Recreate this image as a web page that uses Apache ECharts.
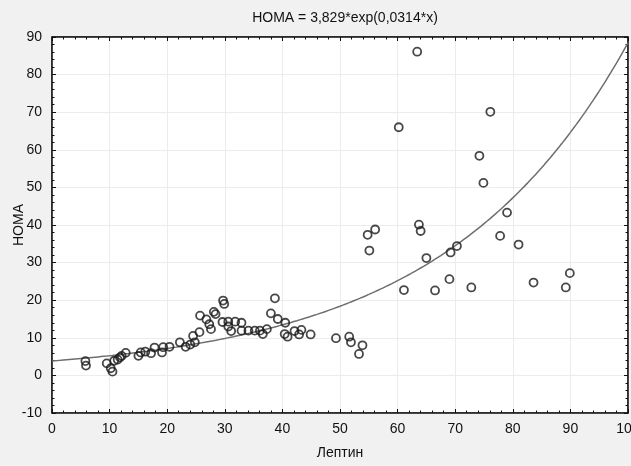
<!DOCTYPE html>
<html>
<head>
<meta charset="utf-8">
<script src="https://cdn.jsdelivr.net/npm/echarts@6/dist/echarts.min.js"></script>
<style>
html,body{margin:0;padding:0;background:#f1f1f1;}
#c{width:631px;height:466px;}
</style>
</head>
<body>
<div id="c"></div>
<script>
// Data
var leptin = [5.8,5.9,9.5,10.2,10.5,10.8,11.4,11.8,12.1,12.8,15.0,15.4,16.2,17.2,17.8,19.1,19.3,20.4,22.2,23.2,24.0,24.5,24.8,25.6,25.7,26.8,27.3,27.6,28.1,28.4,29.6,29.7,29.9,30.6,30.6,31.1,31.8,32.9,32.9,34.1,35.2,36.1,36.6,37.3,38.0,38.7,39.2,40.5,40.4,40.9,42.1,42.9,43.3,44.9,49.3,51.6,51.9,53.9,53.3,54.8,56.1,55.1,60.2,61.1,63.4,63.7,64.0,65.0,66.5,69.0,69.2,70.3,72.8,74.2,74.9,76.1,77.8,79.0,81.0,83.6,89.2,89.9];
var homa = [3.8,2.6,3.2,1.9,1.0,3.9,4.2,4.8,5.2,6.0,5.2,6.1,6.3,5.9,7.4,6.1,7.5,7.6,8.8,7.6,8.2,10.5,8.8,11.5,15.9,14.9,13.6,12.3,16.9,16.3,14.2,19.9,19.0,14.3,13.0,11.8,14.3,14.0,11.9,11.9,11.9,11.9,11.0,12.3,16.5,20.5,15.0,14.0,11.0,10.3,11.8,10.9,12.1,10.9,9.9,10.3,8.8,8.0,5.7,37.4,38.8,33.2,66.0,22.7,86.1,40.1,38.4,31.2,22.6,25.6,32.7,34.4,23.4,58.4,51.2,70.1,37.1,43.3,34.8,24.7,23.4,27.2];
// Fit stated in the title: HOMA = 3,829*exp(0,0314*x)
var fitA = 3.829, fitB = 0.0314;
var xTicks = [0,10,20,30,40,50,60,70,80,90,100];
var yTicks = [-10,0,10,20,30,40,50,60,70,80,90];

var points = leptin.map(function(x,i){return [x, homa[i]];});
var fit = [];
for (var x = 0; x <= 100; x += 0.5) fit.push([x, fitA*Math.exp(fitB*x)]);

var font = 'Liberation Sans, Arial, sans-serif';
var chart = echarts.init(document.getElementById('c'), null, {renderer:'canvas'});
var tickStyle = {show:true, inside:true, length:4, lineStyle:{color:'#111', width:1}};
var minorStyle = {show:true, splitNumber:5, length:2.5, lineStyle:{color:'#111', width:1}};
chart.setOption({
  backgroundColor:'#f1f1f1',
  animation:false,
  title:{text:'HOMA = 3,829*exp(0,0314*x)', left:340, top:6, textAlign:'center',
    textStyle:{fontFamily:font, fontSize:14, fontWeight:'normal', color:'#111'}},
  graphic:[{
    type:'text', x:19, y:225, rotation:Math.PI/2,
    style:{text:'HOMA', fontFamily:font, fontSize:14, fill:'#111', align:'center', verticalAlign:'middle'}
  }],
  grid:{left:52, right:3, top:37, bottom:53, show:true, backgroundColor:'#ffffff', borderColor:'#111', borderWidth:1,
    containLabel:false, outerBoundsMode:'none'},
  xAxis:[{
    type:'value', min:xTicks[0], max:xTicks[xTicks.length-1], interval:10,
    name:'Лептин', nameLocation:'middle', nameGap:33,
    nameTextStyle:{fontFamily:font, fontSize:14, color:'#111'},
    axisLine:{show:true, onZero:false, lineStyle:{color:'#111', width:1.5}},
    axisTick:tickStyle, minorTick:minorStyle,
    axisLabel:{fontFamily:font, fontSize:14, color:'#111', margin:9},
    splitLine:{show:true, lineStyle:{color:'#ececec', width:1}}
  },{
    type:'value', position:'top', min:0, max:100, interval:10,
    axisLine:{show:true, onZero:false, lineStyle:{color:'#111', width:1.5}},
    axisTick:tickStyle, minorTick:minorStyle, axisLabel:{show:false}, splitLine:{show:false}
  }],
  yAxis:[{
    type:'value', min:yTicks[0], max:yTicks[yTicks.length-1], interval:10,
    axisLine:{show:true, onZero:false, lineStyle:{color:'#111', width:1.5}},
    axisTick:tickStyle, minorTick:minorStyle,
    axisLabel:{fontFamily:font, fontSize:14, color:'#111', margin:10},
    splitLine:{show:true, lineStyle:{color:'#ececec', width:1}}
  },{
    type:'value', position:'right', min:-10, max:90, interval:10,
    axisLine:{show:true, onZero:false, lineStyle:{color:'#111', width:1.5}},
    axisTick:tickStyle, minorTick:minorStyle, axisLabel:{show:false}, splitLine:{show:false}
  }],
  series:[{
    type:'line', data:fit, showSymbol:false, smooth:false,
    lineStyle:{color:'#6e6e6e', width:1.5}, z:2
  },{
    type:'scatter', data:points, symbol:'circle', symbolSize:8,
    itemStyle:{color:'rgba(255,255,255,0)', borderColor:'#1a1a1a', borderWidth:1.8}, z:3
  }]
});
</script>
</body>
</html>
